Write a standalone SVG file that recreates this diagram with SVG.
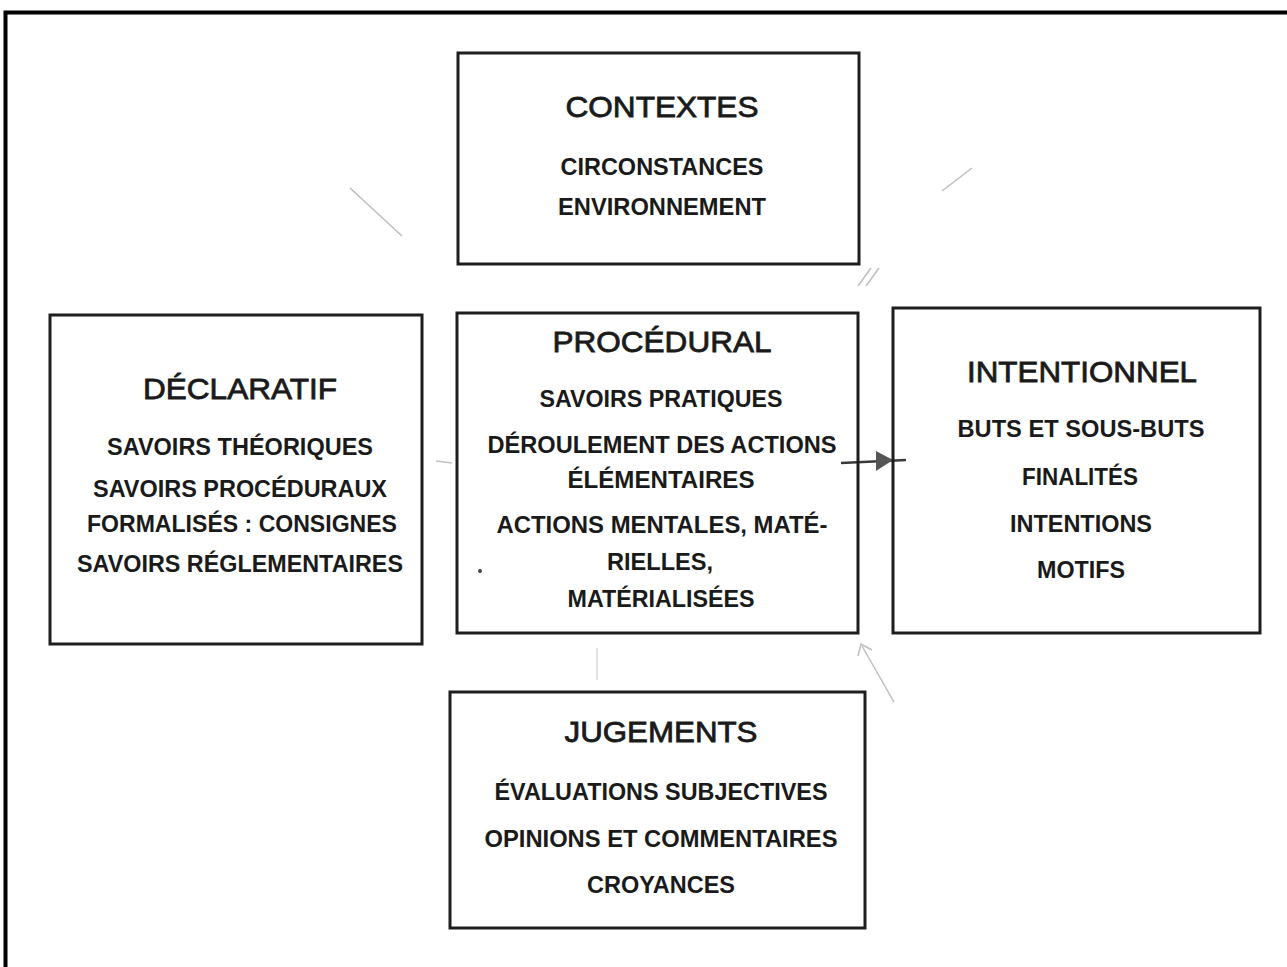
<svg xmlns="http://www.w3.org/2000/svg" width="1287" height="967" viewBox="0 0 1287 967">
<style>
.box{fill:none;stroke:#1e1e1e;stroke-width:3}
.t{font-family:"Liberation Sans",Arial,sans-serif;font-size:30px;fill:#1a1a1a;text-anchor:middle;stroke:#1a1a1a;stroke-width:0.8}
.i{font-family:"Liberation Sans",Arial,sans-serif;font-size:23px;font-weight:bold;fill:#1a1a1a;text-anchor:middle}
.faint{fill:none;stroke:#bdbdbd;stroke-width:1.5}
.dark{fill:none;stroke:#3a3a3a;stroke-width:2.5}
</style>
<rect x="0" y="0" width="1287" height="967" fill="#ffffff"/>
<path d="M5.5 967 V12.5 H1287" fill="none" stroke="#000" stroke-width="4"/>
<g id="connectors">
<line class="faint" x1="350" y1="188" x2="402" y2="236"/>
<line class="faint" x1="942" y1="191" x2="972" y2="168"/>
<line class="faint" x1="858" y1="286" x2="871" y2="268"/>
<line class="faint" x1="866" y1="286" x2="879" y2="268"/>
<line class="faint" x1="436" y1="461" x2="452" y2="463"/>
<line class="dark" x1="841" y1="463" x2="906" y2="460"/>
<path d="M876 451 L893 460 L876 471 Z" fill="#555"/>
<line class="faint" x1="862" y1="646" x2="894" y2="702"/>
<path class="faint" d="M858 656 L861 644 L872 650"/>
<line class="faint" x1="597" y1="648" x2="597" y2="680" stroke-opacity="0.6"/>
<circle cx="480" cy="571" r="2" fill="#444"/>
</g>
<g id="contextes">
<rect class="box" x="458" y="53" width="401" height="211"/>
<text class="t" x="662" y="117" textLength="193" lengthAdjust="spacingAndGlyphs">CONTEXTES</text>
<text class="i" x="662" y="175" textLength="203" lengthAdjust="spacingAndGlyphs">CIRCONSTANCES</text>
<text class="i" x="662" y="215" textLength="208" lengthAdjust="spacingAndGlyphs">ENVIRONNEMENT</text>
</g>
<g id="declaratif">
<rect class="box" x="50" y="315" width="372" height="329"/>
<text class="t" x="240" y="399" textLength="194" lengthAdjust="spacingAndGlyphs">DÉCLARATIF</text>
<text class="i" x="240" y="455" textLength="266" lengthAdjust="spacingAndGlyphs">SAVOIRS THÉORIQUES</text>
<text class="i" x="240" y="497" textLength="294" lengthAdjust="spacingAndGlyphs">SAVOIRS PROCÉDURAUX</text>
<text class="i" x="242" y="532" textLength="310" lengthAdjust="spacingAndGlyphs">FORMALISÉS : CONSIGNES</text>
<text class="i" x="240" y="572" textLength="326" lengthAdjust="spacingAndGlyphs">SAVOIRS RÉGLEMENTAIRES</text>
</g>
<g id="procedural">
<rect class="box" x="457" y="313" width="401" height="320"/>
<text class="t" x="662" y="352" textLength="219" lengthAdjust="spacingAndGlyphs">PROCÉDURAL</text>
<text class="i" x="661" y="407" textLength="243" lengthAdjust="spacingAndGlyphs">SAVOIRS PRATIQUES</text>
<text class="i" x="662" y="453" textLength="349" lengthAdjust="spacingAndGlyphs">DÉROULEMENT DES ACTIONS</text>
<text class="i" x="661" y="488" textLength="187" lengthAdjust="spacingAndGlyphs">ÉLÉMENTAIRES</text>
<text class="i" x="662" y="533" textLength="331" lengthAdjust="spacingAndGlyphs">ACTIONS MENTALES, MATÉ-</text>
<text class="i" x="660" y="570" textLength="106" lengthAdjust="spacingAndGlyphs">RIELLES,</text>
<text class="i" x="661" y="607" textLength="187" lengthAdjust="spacingAndGlyphs">MATÉRIALISÉES</text>
</g>
<g id="intentionnel">
<rect class="box" x="893" y="308" width="367" height="325"/>
<text class="t" x="1082" y="382" textLength="230" lengthAdjust="spacingAndGlyphs">INTENTIONNEL</text>
<text class="i" x="1081" y="437" textLength="247" lengthAdjust="spacingAndGlyphs">BUTS ET SOUS-BUTS</text>
<text class="i" x="1080" y="485" textLength="116" lengthAdjust="spacingAndGlyphs">FINALITÉS</text>
<text class="i" x="1081" y="532" textLength="142" lengthAdjust="spacingAndGlyphs">INTENTIONS</text>
<text class="i" x="1081" y="578" textLength="88" lengthAdjust="spacingAndGlyphs">MOTIFS</text>
</g>
<g id="jugements">
<rect class="box" x="450" y="692" width="415" height="236"/>
<text class="t" x="661" y="742" textLength="193" lengthAdjust="spacingAndGlyphs">JUGEMENTS</text>
<text class="i" x="661" y="800" textLength="333" lengthAdjust="spacingAndGlyphs">ÉVALUATIONS SUBJECTIVES</text>
<text class="i" x="661" y="847" textLength="353" lengthAdjust="spacingAndGlyphs">OPINIONS ET COMMENTAIRES</text>
<text class="i" x="661" y="893" textLength="148" lengthAdjust="spacingAndGlyphs">CROYANCES</text>
</g>
</svg>
